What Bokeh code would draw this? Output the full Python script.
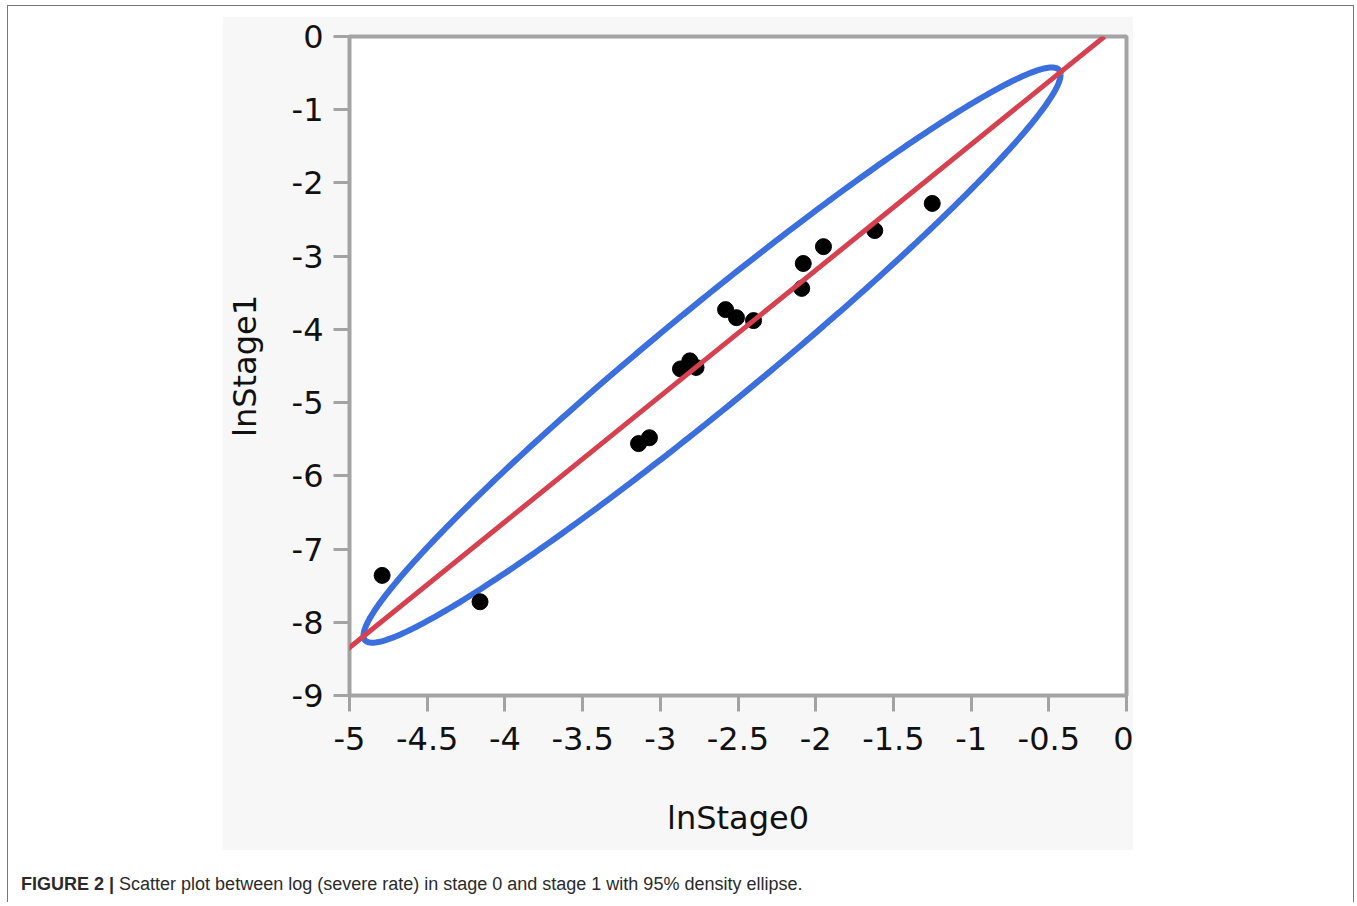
import numpy as np
from bokeh.plotting import figure
from bokeh.models import Range1d, FixedTicker, Slope, Div, Spacer
from bokeh.layouts import column, row
from bokeh.embed import file_html
from bokeh.resources import INLINE

# ---- data ----
ln_stage0 = [-4.79, -4.16, -3.14, -3.07, -2.87, -2.81, -2.77, -2.58, -2.51,
             -2.40, -2.08, -2.09, -1.95, -1.62, -1.25]
ln_stage1 = [-7.36, -7.72, -5.56, -5.48, -4.54, -4.43, -4.52, -3.73, -3.84,
             -3.88, -3.10, -3.44, -2.87, -2.65, -2.28]

# fitted line  y = intercept + slope * x
fit_intercept = 0.243
fit_slope = 1.718

# 95% density ellipse: centre, half-extents and correlation
ell_cx, ell_cy = -2.667, -4.351
ell_hx, ell_hy = 2.243, 3.928
ell_r = 0.975

x_ticks = [-5, -4.5, -4, -3.5, -3, -2.5, -2, -1.5, -1, -0.5, 0]
x_tick_labels = ["-5", "-4.5", "-4", "-3.5", "-3", "-2.5", "-2", "-1.5", "-1", "-0.5", "0"]
y_ticks = [-9, -8, -7, -6, -5, -4, -3, -2, -1, 0]
y_tick_labels = ["-9", "-8", "-7", "-6", "-5", "-4", "-3", "-2", "-1", "0"]

x_label = "lnStage0"
y_label = "lnStage1"
caption_bold = "FIGURE 2 |"
caption_text = "Scatter plot between log (severe rate) in stage 0 and stage 1 with 95% density ellipse."

# ---- chart panel ----
p = figure(width=911, height=834, output_backend="svg", toolbar_location=None,
           x_range=Range1d(-5, 0), y_range=Range1d(-9, 0),
           min_border_left=126, min_border_right=7,
           min_border_top=20, min_border_bottom=155)
p.border_fill_color = "#f7f7f7"
p.background_fill_color = "white"
p.grid.visible = False
p.outline_line_color = "#a3a3a3"
p.outline_line_width = 4

for ax, ticks, labels in ((p.xaxis[0], x_ticks, x_tick_labels),
                          (p.yaxis[0], y_ticks, y_tick_labels)):
    ax.ticker = FixedTicker(ticks=ticks)
    ax.major_label_overrides = {t: l for t, l in zip(ticks, labels)}
    ax.minor_tick_line_color = None
    ax.axis_line_color = "#a3a3a3"
    ax.axis_line_width = 3
    ax.major_tick_line_color = "#a3a3a3"
    ax.major_tick_line_width = 3
    ax.major_tick_out = 16
    ax.major_tick_in = 0
    ax.major_label_text_font = "DejaVu Sans"
    ax.major_label_text_font_size = "32px"
    ax.major_label_text_color = "#111111"
    ax.axis_label_text_font = "DejaVu Sans"
    ax.axis_label_text_font_size = "32px"
    ax.axis_label_text_font_style = "normal"
    ax.axis_label_text_color = "#111111"

p.xaxis.axis_label = x_label
p.yaxis.axis_label = y_label
p.xaxis.major_label_standoff = 15
p.yaxis.major_label_standoff = 10
p.xaxis.axis_label_standoff = 46
p.yaxis.axis_label_standoff = 25

# fitted line
p.add_layout(Slope(gradient=fit_slope, y_intercept=fit_intercept,
                   line_color="#d6404f", line_width=5))

# density ellipse
t = np.linspace(0, 2 * np.pi, 400)
ex = ell_cx + ell_hx * np.cos(t)
ey = ell_cy + ell_hy * (ell_r * np.cos(t) + np.sqrt(1 - ell_r ** 2) * np.sin(t))
p.line(ex, ey, line_color="#3b6fdd", line_width=6)

# points
p.scatter(ln_stage0, ln_stage1, size=16, color="black")

# ---- caption and outer frame ----
caption = Div(
    text=('<div style="font-family:\'Liberation Sans Narrow\',\'Liberation Sans\',sans-serif;'
          'font-size:18px;line-height:20px;color:#2a2a2a;white-space:nowrap;'
          'padding-top:24px;padding-left:13px;">'
          '<b>' + caption_bold + '</b> ' + caption_text + '</div>'),
    width=1345, height=52, margin=0)

layout = column(
    Spacer(width=1345, height=10, margin=0),
    row(Spacer(width=214, height=834, margin=0), p, spacing=0, margin=0),
    caption,
    spacing=0,
    margin=(5, 0, 0, 7),
    styles={"border-top": "1.5px solid #777777",
            "border-left": "1.5px solid #777777",
            "border-right": "1.5px solid #777777"},
)

open("out.html", "w").write(file_html(layout, INLINE))
